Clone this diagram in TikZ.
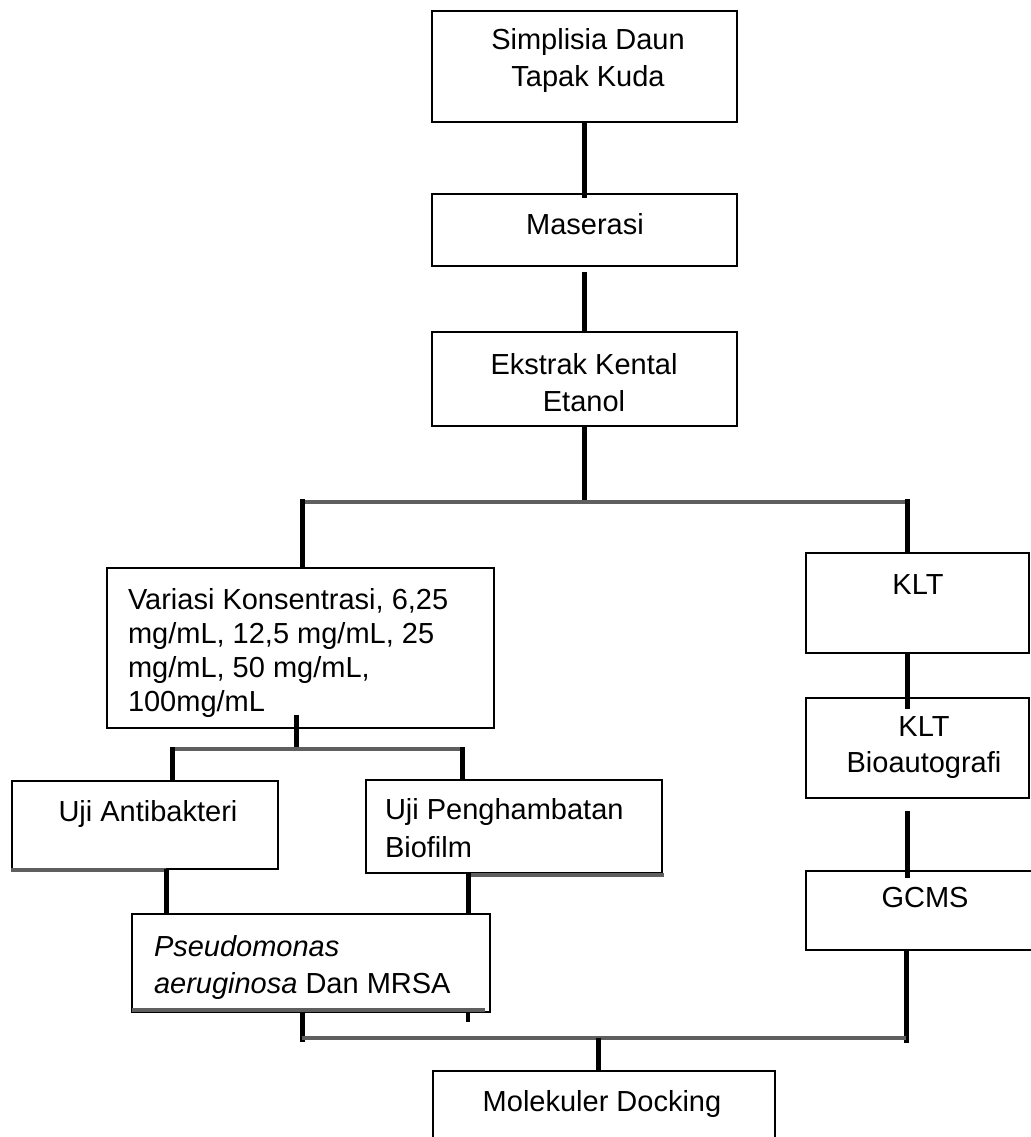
\documentclass[tikz,border=0pt]{standalone}
\usepackage{fontspec}
\setmainfont{Liberation Sans}
\definecolor{bargray}{RGB}{95,95,95}
\begin{document}
\begin{tikzpicture}[x=1pt,y=-1pt,
  box/.style={draw=black, line width=1.8pt, inner sep=0pt, outer sep=0pt, anchor=north west},
  txt/.style={inner sep=0pt, outer sep=0pt, font=\fontsize{29}{37}\selectfont},
  conn/.style={draw=black, line width=5pt},
  stub/.style={draw=black, line width=4pt},
  bar/.style={draw=bargray, line width=4pt}]
\useasboundingbox[fill=white] (0,0) rectangle (1030,1137);

% boxes
\node[box, minimum width=305pt, minimum height=111pt] (A) at (432,11) {};
\node[box, minimum width=305pt, minimum height=72pt] (M) at (432,194) {};
\node[box, minimum width=305pt, minimum height=94pt] (E) at (432,332) {};
\node[box, minimum width=387pt, minimum height=160pt] (V) at (107,568) {};
\node[box, minimum width=223pt, minimum height=100pt] (K) at (806,553) {};
\node[box, minimum width=223pt, minimum height=100pt] (B) at (806,698) {};
\node[box, minimum width=238pt, minimum height=79pt] (G) at (806,871) {};
\node[box, minimum width=266pt, minimum height=88pt] (UA) at (12,781) {};
\node[box, minimum width=296pt, minimum height=93pt] (UP) at (366,780) {};
\node[box, minimum width=358pt, minimum height=98pt] (PS) at (132,914) {};
\node[box, minimum width=342pt, minimum height=79pt] (MD) at (433,1071) {};

% texts
\node[txt, anchor=north, align=center] (tA) at (588,28) {Simplisia Daun\\Tapak Kuda};
\node[txt, anchor=north] (tM) at (585,213) {Maserasi};
\node[txt, anchor=north, align=center] (tE) at (584,353) {Ekstrak Kental\\Etanol};
\node[txt, anchor=north west, align=left, font=\fontsize{29}{34}\selectfont] (tV) at (128,588)
  {Variasi Konsentrasi, 6,25\\mg/mL, 12,5 mg/mL, 25\\mg/mL, 50 mg/mL,\\100mg/mL};
\node[txt, anchor=north] (tK) at (918,575) {KLT};
\node[txt, anchor=north, align=center, font=\fontsize{29}{36}\selectfont] (tB) at (924,717) {KLT\\Bioautografi};
\node[txt, anchor=north] (tG) at (925,887) {GCMS};
\node[txt, anchor=north] (tUA) at (148,800) {Uji Antibakteri};
\node[txt, anchor=north west, align=left, font=\fontsize{29}{38}\selectfont] (tUP) at (385,798) {Uji Penghambatan\\Biofilm};
\node[txt, anchor=north west, align=left] (tPS) at (154,935) {\textit{Pseudomonas}\\\textit{aeruginosa} Dan MRSA};
\node[txt, anchor=north] (tMD) at (602,1090) {Molekuler Docking};

% junction coordinates
\coordinate (b1L) at (302,502);
\coordinate (b1R) at (907,502);
\coordinate (b2L) at (172,749);
\coordinate (b2M) at (296,749);
\coordinate (b2R) at (462,749);
\coordinate (cA) at (166,869);
\coordinate (cP) at (468,872);
\coordinate (stubEnd) at (468,1022);
\coordinate (b3L) at (302,1038);
\coordinate (b3M) at (598,1038);
\coordinate (b3R) at (906,1038);

% top chain
\draw[conn] (A.south) -- ([yshift=-4pt]M.north);
\draw[conn] ([yshift=-6pt]M.south) -- (E.north);
\draw[conn] (E.south) -- (E.south |- b1L);

% first split
\draw[bar] (b1L) -- (b1R);
\draw[conn] ([yshift=3pt]b1L) -- (b1L |- V.north);
\draw[conn] ([yshift=3pt]b1R) -- (b1R |- K.north);

% right chain
\draw[conn] (K.south -| b1R) -- ([yshift=-11pt]B.north -| b1R);
\draw[conn] ([yshift=-13pt]B.south -| b1R) -- ([yshift=-7pt]G.north -| b1R);

% second split
\draw[conn] ([yshift=13pt]V.south -| b2M) -- (b2M);
\draw[bar] (b2L) -- (b2R);
\draw[conn] ([yshift=2pt]b2L) -- (b2L |- UA.north);
\draw[conn] ([yshift=2pt]b2R) -- (b2R |- UP.north);

% to Pseudomonas
\draw[bar] ([xshift=-1pt,yshift=-1pt]UA.south west) -- ([yshift=-1pt]cA);
\draw[conn] (cA) -- (cA |- PS.north);
\draw[bar] ([yshift=-2pt]cP |- UP.south) -- ([xshift=2pt,yshift=-2pt]UP.south east);
\draw[conn] (cP) -- (cP |- PS.north);
\draw[bar] ([yshift=2.5pt]PS.south west) -- ([xshift=-5pt,yshift=2.5pt]PS.south east);
\draw[stub] (cP |- PS.south) -- (stubEnd);

% final merge
\draw[conn] (b3L |- PS.south) -- ([yshift=-4pt]b3L);
\draw[conn] (G.south -| b3R) -- ([yshift=-5pt]b3R);
\draw[bar] (b3L) -- (b3R);
\draw[conn] (b3M) -- (b3M |- MD.north);
\end{tikzpicture}
\end{document}
